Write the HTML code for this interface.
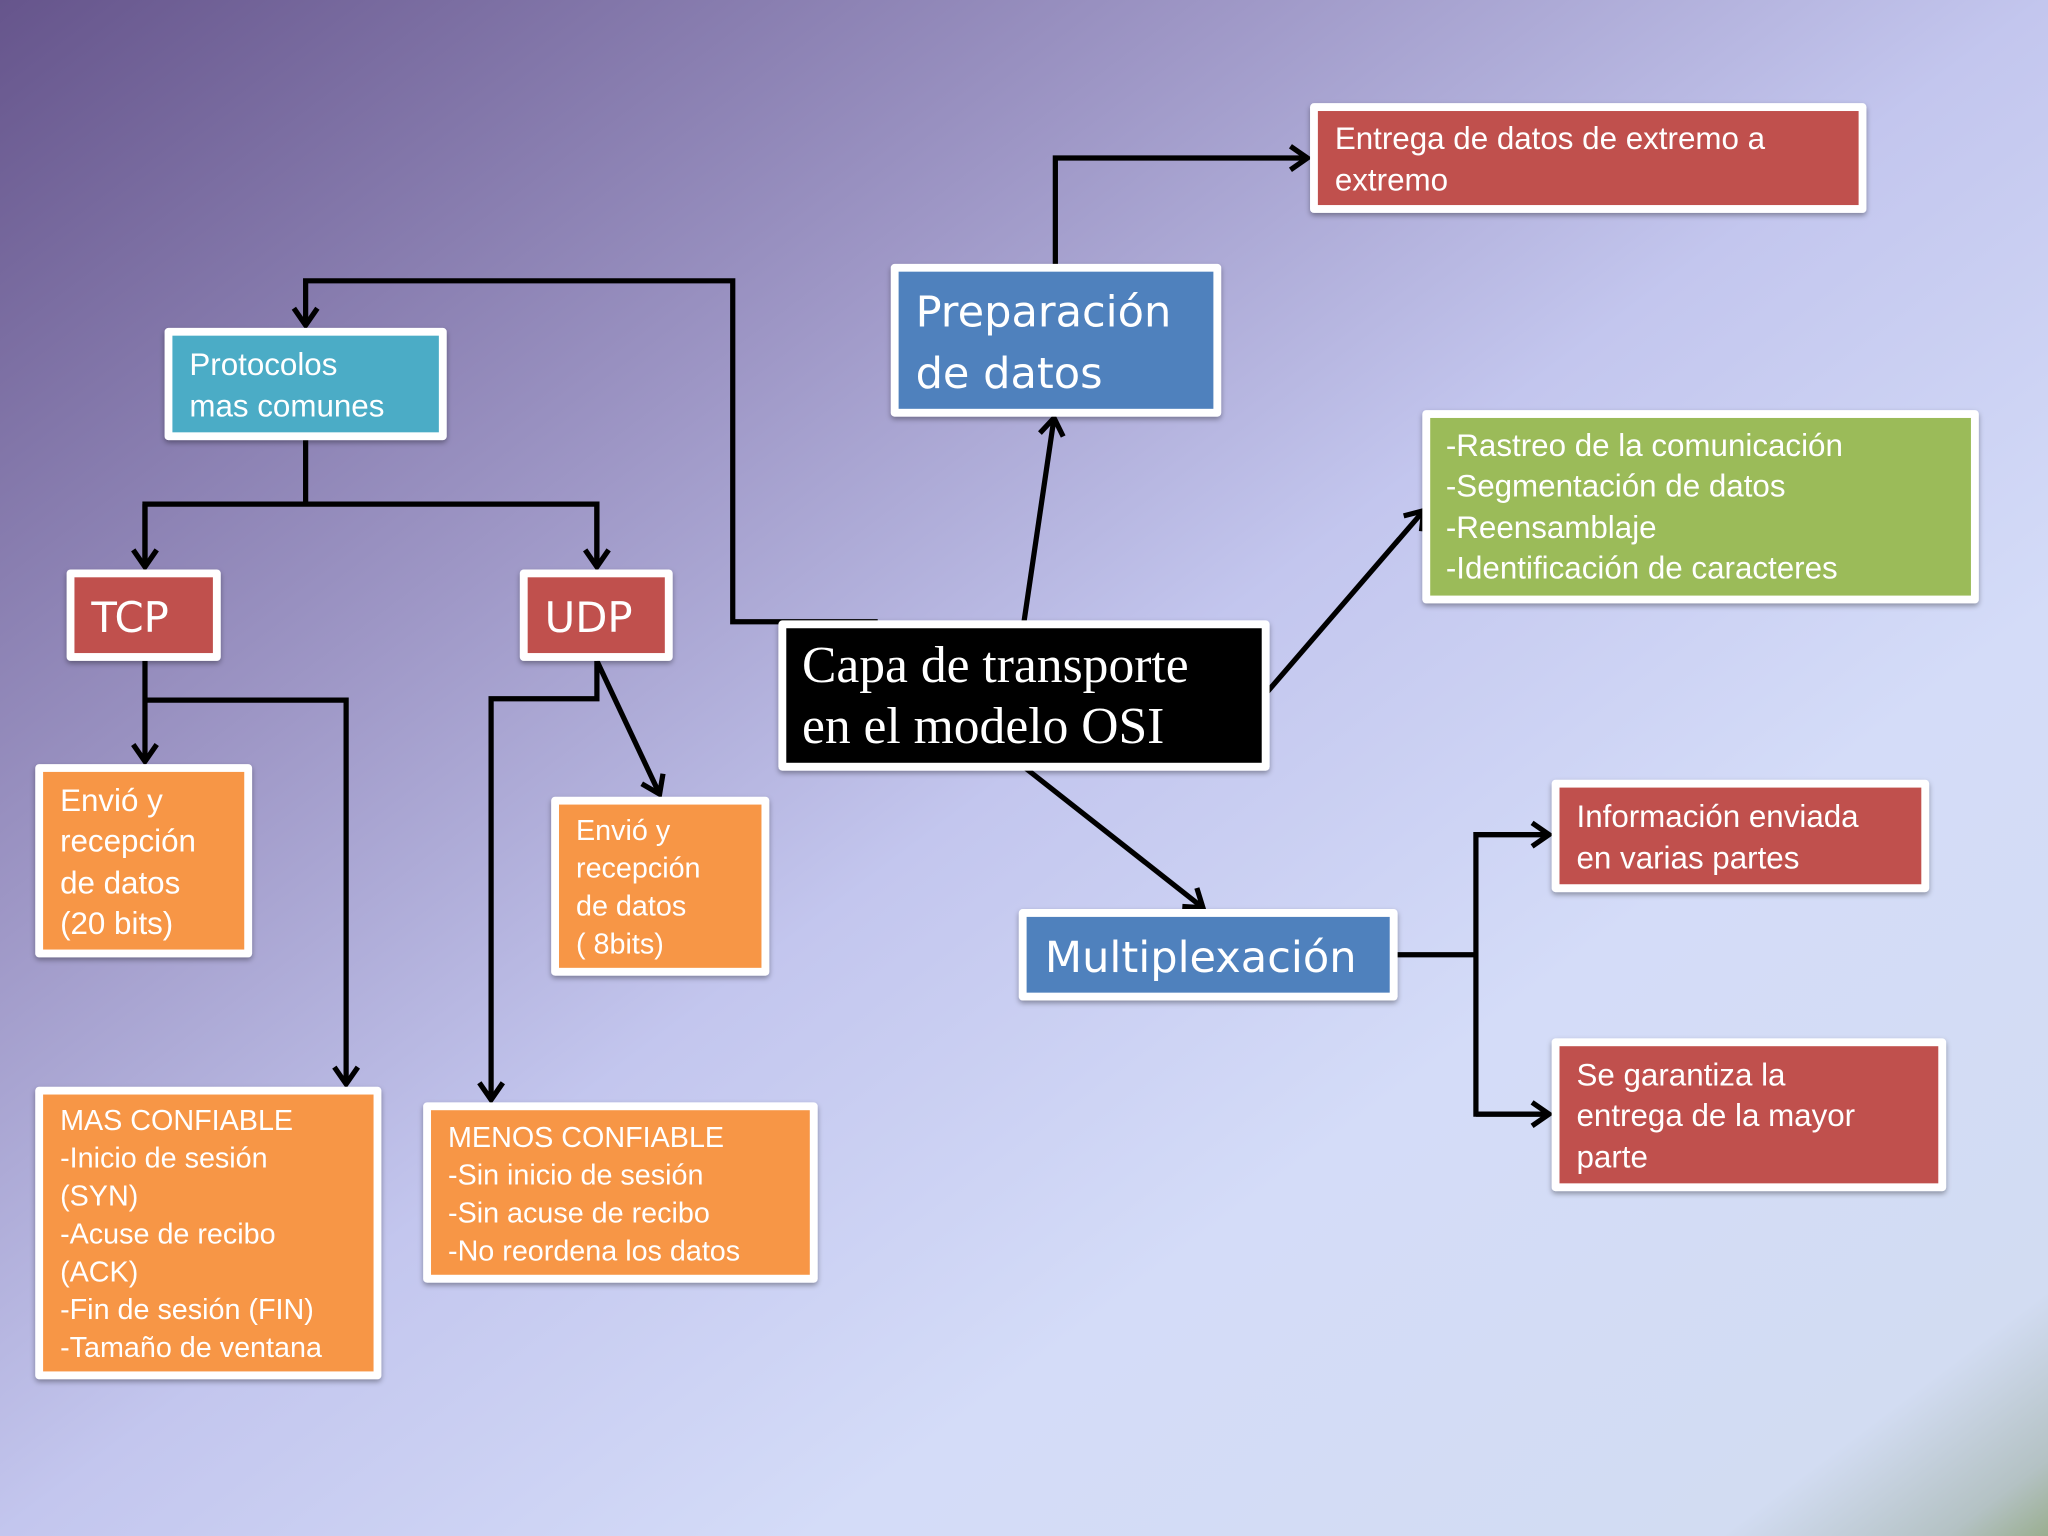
<!DOCTYPE html>
<html><head><meta charset="utf-8"><style>
html,body{margin:0;padding:0;width:2048px;height:1536px;overflow:hidden;}
svg{display:block}
text{font-family:"Liberation Sans",sans-serif;fill:#fff}
</style></head><body>
<svg width="2048" height="1536" viewBox="0 0 1568 1176" preserveAspectRatio="none" xmlns="http://www.w3.org/2000/svg">
<defs>
<linearGradient id="bg" x1="0" y1="0" x2="1" y2="1" gradientUnits="objectBoundingBox">
<stop offset="0" stop-color="#66558c"/>
<stop offset="0.3" stop-color="#9e97c6"/>
<stop offset="0.5" stop-color="#c3c6ee"/>
<stop offset="0.7" stop-color="#d4dcf8"/>
<stop offset="0.92" stop-color="#d2dcf2"/>
<stop offset="0.975" stop-color="#b4c2c4"/>
<stop offset="1" stop-color="#9aae90"/>
</linearGradient>
<filter id="sh" x="-5%" y="-5%" width="110%" height="120%"><feDropShadow dx="0" dy="2" stdDeviation="2" flood-color="#000" flood-opacity="0.35"/></filter>
<marker id="a" markerWidth="20" markerHeight="22" refX="15" refY="11" orient="auto" markerUnits="userSpaceOnUse">
<polyline points="2,2 15,11 2,20" fill="none" stroke="#000" stroke-width="4"/>
</marker>
</defs>
<rect width="1568" height="1176" fill="url(#bg)"/>

<g fill="none" stroke="#000" stroke-width="4">
<polyline points="808,203 808,121 1001,121" marker-end="url(#a)"/>
<line x1="784" y1="476" x2="807" y2="320" marker-end="url(#a)"/>
<line x1="970" y1="530" x2="1090" y2="391" marker-end="url(#a)"/>
<line x1="785" y1="588" x2="921" y2="695" marker-end="url(#a)"/>
<polyline points="1070,731 1130,731"/>
<polyline points="1186,639 1130,639 1130,853 1186,853" />
<line x1="1130" y1="639" x2="1186" y2="639" marker-end="url(#a)"/>
<line x1="1130" y1="853" x2="1186" y2="853" marker-end="url(#a)"/>
<polyline points="672,476 561,476 561,215 234,215 234,249" marker-end="url(#a)"/>
<polyline points="234,337 234,386"/>
<polyline points="111,434 111,386 457,386 457,434"/>
<line x1="111" y1="386" x2="111" y2="434" marker-end="url(#a)"/>
<line x1="457" y1="386" x2="457" y2="434" marker-end="url(#a)"/>
<line x1="111" y1="506" x2="111" y2="583" marker-end="url(#a)"/>
<polyline points="111,536 265,536 265,830" marker-end="url(#a)"/>
<polyline points="457,506 457,535 376,535 376,842" marker-end="url(#a)"/>
<line x1="457" y1="506" x2="505" y2="608" marker-end="url(#a)"/>
</g>

<g filter="url(#sh)">
<rect x="1003" y="79" width="426" height="84" rx="3" fill="#fff"/>
<rect x="682" y="202" width="253" height="117" rx="3" fill="#fff"/>
<rect x="126" y="251" width="216" height="86" rx="3" fill="#fff"/>
<rect x="1089" y="314" width="426" height="148" rx="3" fill="#fff"/>
<rect x="51" y="436" width="118" height="70" rx="3" fill="#fff"/>
<rect x="398" y="436" width="117" height="70" rx="3" fill="#fff"/>
<rect x="596" y="475" width="376" height="115" rx="3" fill="#fff"/>
<rect x="27" y="585" width="166" height="148" rx="3" fill="#fff"/>
<rect x="422" y="610" width="167" height="137" rx="3" fill="#fff"/>
<rect x="1188" y="597" width="289" height="86" rx="3" fill="#fff"/>
<rect x="780" y="696" width="290" height="70" rx="3" fill="#fff"/>
<rect x="1188" y="795" width="302" height="117" rx="3" fill="#fff"/>
<rect x="27" y="832" width="265" height="224" rx="3" fill="#fff"/>
<rect x="324" y="844" width="302" height="138" rx="3" fill="#fff"/>
</g>
<g>
<rect x="1009" y="85" width="414" height="72" fill="#c0504d"/>
<rect x="688" y="208" width="241" height="105" fill="#4f81bd"/>
<rect x="132" y="257" width="204" height="74" fill="#4bacc6"/>
<rect x="1095" y="320" width="414" height="136" fill="#9bbb59"/>
<rect x="57" y="442" width="106" height="58" fill="#c0504d"/>
<rect x="404" y="442" width="105" height="58" fill="#c0504d"/>
<rect x="602" y="481" width="364" height="103" fill="#000"/>
<rect x="33" y="591" width="154" height="136" fill="#f79646"/>
<rect x="428" y="616" width="155" height="125" fill="#f79646"/>
<rect x="1194" y="603" width="277" height="74" fill="#c0504d"/>
<rect x="786" y="702" width="278" height="58" fill="#4f81bd"/>
<rect x="1194" y="801" width="290" height="105" fill="#c0504d"/>
<rect x="33" y="838" width="253" height="212" fill="#f79646"/>
<rect x="330" y="850" width="290" height="126" fill="#f79646"/>
</g>

<text font-size="24"><tspan x="1022" y="114">Entrega de datos de extremo a</tspan><tspan x="1022" y="146">extremo</tspan></text>
<text font-size="33" style="font-family:'DejaVu Sans',sans-serif"><tspan x="701" y="250">Preparación</tspan><tspan x="701" y="297">de datos</tspan></text>
<text font-size="24"><tspan x="145" y="287">Protocolos</tspan><tspan x="145" y="319">mas comunes</tspan></text>
<text font-size="24"><tspan x="1107" y="349">-Rastreo de la comunicación</tspan><tspan x="1107" y="380">-Segmentación de datos</tspan><tspan x="1107" y="412">-Reensamblaje</tspan><tspan x="1107" y="443">-Identificación de caracteres</tspan></text>
<text font-size="32" x="70" y="484" style="font-family:'DejaVu Sans',sans-serif">TCP</text>
<text font-size="32" x="417" y="484" style="font-family:'DejaVu Sans',sans-serif">UDP</text>
<text font-size="39.5" style="font-family:'Liberation Serif',serif"><tspan x="614" y="522">Capa de transporte</tspan><tspan x="614" y="569">en el modelo OSI</tspan></text>
<text font-size="24"><tspan x="46" y="621">Envió y</tspan><tspan x="46" y="652">recepción</tspan><tspan x="46" y="684">de datos</tspan><tspan x="46" y="715">(20 bits)</tspan></text>
<text font-size="22"><tspan x="441" y="643">Envió y</tspan><tspan x="441" y="672">recepción</tspan><tspan x="441" y="701">de datos</tspan><tspan x="441" y="730">( 8bits)</tspan></text>
<text font-size="24"><tspan x="1207" y="633">Información enviada</tspan><tspan x="1207" y="665">en varias partes</tspan></text>
<text font-size="33" x="800" y="744" style="font-family:'DejaVu Sans',sans-serif">Multiplexación</text>
<text font-size="24"><tspan x="1207" y="831">Se garantiza la</tspan><tspan x="1207" y="862">entrega de la mayor</tspan><tspan x="1207" y="894">parte</tspan></text>
<text font-size="22"><tspan x="46" y="865">MAS CONFIABLE</tspan><tspan x="46" y="894">-Inicio de sesión</tspan><tspan x="46" y="923">(SYN)</tspan><tspan x="46" y="952">-Acuse de recibo</tspan><tspan x="46" y="981">(ACK)</tspan><tspan x="46" y="1010">-Fin de sesión (FIN)</tspan><tspan x="46" y="1039">-Tamaño de ventana</tspan></text>
<text font-size="22"><tspan x="343" y="878">MENOS CONFIABLE</tspan><tspan x="343" y="907">-Sin inicio de sesión</tspan><tspan x="343" y="936">-Sin acuse de recibo</tspan><tspan x="343" y="965">-No reordena los datos</tspan></text>
</svg>
</body></html>
